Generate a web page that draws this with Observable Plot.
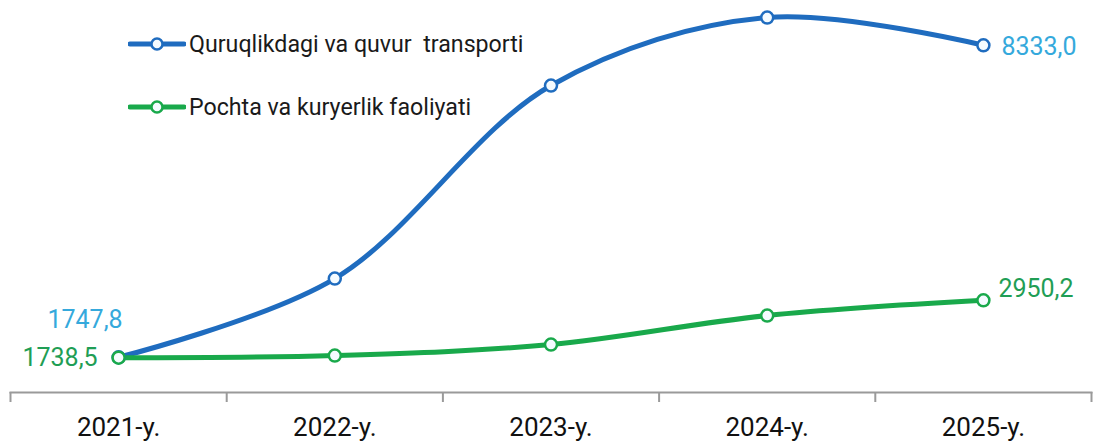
<!DOCTYPE html>
<html><head><meta charset="utf-8">
<script src="https://cdn.jsdelivr.net/npm/d3@7"></script>
<script src="https://cdn.jsdelivr.net/npm/@observablehq/plot@0.6"></script>
<style>
body{margin:0;background:#fff;font-family:Roboto,sans-serif}
#wrap{position:relative;width:1093px;height:443px;overflow:hidden}
.lg{position:absolute;left:128px;display:flex;align-items:center;font:23.2px Roboto,sans-serif;color:#1a1a1a;white-space:pre;height:30px}
.lg svg{margin-right:3px}
</style>
</head><body>
<div id="wrap"></div>
<script>
const years = [2021, 2022, 2023, 2024, 2025];
const yearLabels = ["2021-y.", "2022-y.", "2023-y.", "2024-y.", "2025-y."];
const seriesNames = ["Quruqlikdagi va quvur  transporti", "Pochta va kuryerlik faoliyati"];
const transport = [1747.8, 3410, 7484, 8919, 8333.0];
const pochta = [1738.5, 1785, 2017, 2629, 2950.2];
const lineColors = ["#1f6cbf", "#19a94b"];
const labelColors = ["#35a9dc", "#1f9e55"];

const seriesValues = [transport, pochta];
const rows = seriesValues.flatMap((vals, s) => vals.map((v, i) => ({series: seriesNames[s], year: years[i], value: v})));
const fmt = v => d3.format(".1f")(v).replace(".", ",");

const endLabels = [
  {series: 0, idx: 0, anchor: "end", dx: 4, dy: -37},
  {series: 1, idx: 0, anchor: "end", dx: -21, dy: 0},
  {series: 0, idx: 4, anchor: "start", dx: 18, dy: 2},
  {series: 1, idx: 4, anchor: "start", dx: 15, dy: -11}
];

const textMarks = endLabels.map(l => Plot.text([{year: years[l.idx], value: seriesValues[l.series][l.idx]}], {
  x: "year", y: "value", text: d => fmt(d.value), textAnchor: l.anchor, dx: l.dx, dy: l.dy,
  fill: labelColors[l.series], fontSize: 25
}));

const plot = Plot.plot({
  width: 1093, height: 443,
  marginLeft: 10, marginRight: 2, marginTop: 0, marginBottom: 51,
  x: {domain: [2020.5, 2025.5]},
  y: {domain: [0, 9000], range: [439.6, 13.2], axis: null},
  color: {domain: seriesNames, range: lineColors},
  style: {fontFamily: "Roboto, sans-serif", overflow: "visible", background: "#fff"},
  marks: [
    Plot.frame({anchor: "bottom", stroke: "#9a9a9a", strokeWidth: 2}),
    Plot.axisX({ticks: d3.range(2020.5, 2026, 1), tickSize: 10, tickFormat: () => "", label: null, stroke: "#9a9a9a", strokeWidth: 2, strokeOpacity: 1}),
    Plot.axisX({ticks: years, tickSize: 0, tickPadding: 25, tickFormat: d => yearLabels[years.indexOf(d)], label: null, fontSize: 26, color: "#111"}),
    Plot.line(rows, {x: "year", y: "value", z: "series", stroke: "series", strokeWidth: 5, curve: "catmull-rom"}),
    Plot.dot(rows, {x: "year", y: "value", stroke: "series", fill: "#f4fbff", r: 6, strokeWidth: 2.5}),
    ...textMarks
  ]
});
const wrap = document.getElementById("wrap");
wrap.appendChild(plot);

const legendTops = [29, 92];
seriesNames.forEach((name, i) => {
  const div = document.createElement("div");
  div.className = "lg";
  div.style.top = legendTops[i] + "px";
  div.innerHTML = `<svg width="58" height="20"><line x1="2" x2="56" y1="10" y2="10" stroke="${lineColors[i]}" stroke-width="5" stroke-linecap="round"/><circle cx="29" cy="10" r="5.5" fill="#f4fbff" stroke="${lineColors[i]}" stroke-width="2.5"/></svg><span>${name}</span>`;
  wrap.appendChild(div);
});
</script>
</body></html>
